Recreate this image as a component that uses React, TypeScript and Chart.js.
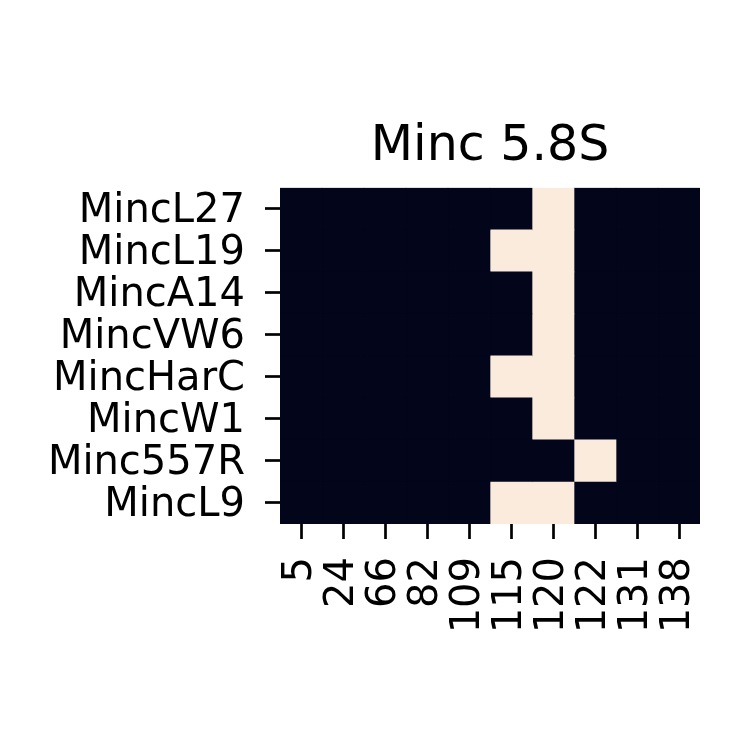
import React, { useEffect, useRef } from "react";
import { Chart, registerables } from "chart.js";

Chart.register(...registerables);

const TITLE = "Minc 5.8S";
const rowLabels = ["MincL27", "MincL19", "MincA14", "MincVW6", "MincHarC", "MincW1", "Minc557R", "MincL9"];
const columnLabels = ["5", "24", "66", "82", "109", "115", "120", "122", "131", "138"];

const MincL27 = [0, 0, 0, 0, 0, 0, 1, 0, 0, 0];
const MincL19 = [0, 0, 0, 0, 0, 1, 1, 0, 0, 0];
const MincA14 = [0, 0, 0, 0, 0, 0, 1, 0, 0, 0];
const MincVW6 = [0, 0, 0, 0, 0, 0, 1, 0, 0, 0];
const MincHarC = [0, 0, 0, 0, 0, 1, 1, 0, 0, 0];
const MincW1 = [0, 0, 0, 0, 0, 0, 1, 0, 0, 0];
const Minc557R = [0, 0, 0, 0, 0, 0, 0, 1, 0, 0];
const MincL9 = [0, 0, 0, 0, 0, 1, 1, 0, 0, 0];

const rowValues = [MincL27, MincL19, MincA14, MincVW6, MincHarC, MincW1, Minc557R, MincL9];

const LOW = "#03051a";
const HIGH = "#faebdd";
const FONT = "'DejaVu Sans', sans-serif";

export default function App() {
  const ref = useRef<HTMLCanvasElement | null>(null);

  useEffect(() => {
    if (!ref.current) return;
    const datasets = columnLabels.map((col, j) => ({
      label: col,
      data: rowValues.map(() => 1),
      backgroundColor: rowValues.map((r) => (r[j] ? HIGH : LOW)),
      borderWidth: 0,
      borderSkipped: false,
      barPercentage: 1,
      categoryPercentage: 1,
      xAxisID: "x",
      yAxisID: "y",
    }));

    const chart = new Chart(ref.current, {
      type: "bar",
      data: { labels: rowLabels, datasets },
      options: {
        indexAxis: "y",
        animation: false,
        responsive: false,
        devicePixelRatio: 1,
        layout: { padding: { left: 0, right: 50, top: 0, bottom: 0 } },
        plugins: {
          legend: { display: false },
          tooltip: { enabled: false },
          title: {
            display: true,
            text: TITLE,
            fullSize: false,
            color: "#000",
            font: { family: FONT, size: 49, weight: "normal", lineHeight: 1.2 },
            padding: { top: 118, bottom: 11 },
          },
        },
        scales: {
          x: {
            type: "linear",
            display: false,
            stacked: true,
            min: 0,
            max: columnLabels.length,
          },
          x2: {
            type: "category",
            position: "bottom",
            labels: columnLabels,
            offset: true,
            border: { display: false },
            grid: {
              offset: false,
              drawOnChartArea: false,
              drawTicks: true,
              tickLength: 15,
              tickWidth: 2.7,
              tickColor: "#000",
            },
            ticks: {
              color: "#000",
              font: { family: FONT, size: 40 },
              minRotation: 90,
              maxRotation: 90,
              autoSkip: false,
              padding: 18,
            },
            afterFit: (scale: any) => {
              scale.height = 226;
            },
          },
          y: {
            type: "category",
            stacked: true,
            offset: true,
            border: { display: false },
            grid: {
              offset: false,
              drawOnChartArea: false,
              drawTicks: true,
              tickLength: 15,
              tickWidth: 2.7,
              tickColor: "#000",
            },
            ticks: {
              color: "#000",
              font: { family: FONT, size: 40 },
              autoSkip: false,
              padding: 20,
              labelOffset: 3,
            },
            afterFit: (scale: any) => {
              scale.width = 280;
            },
          },
        },
      },
    });
    return () => chart.destroy();
  }, []);

  return (
    <div style={{ position: "fixed", left: 0, top: 0, width: 750, height: 750, background: "#fff" }}>
      <canvas ref={ref} width={750} height={750} />
    </div>
  );
}
